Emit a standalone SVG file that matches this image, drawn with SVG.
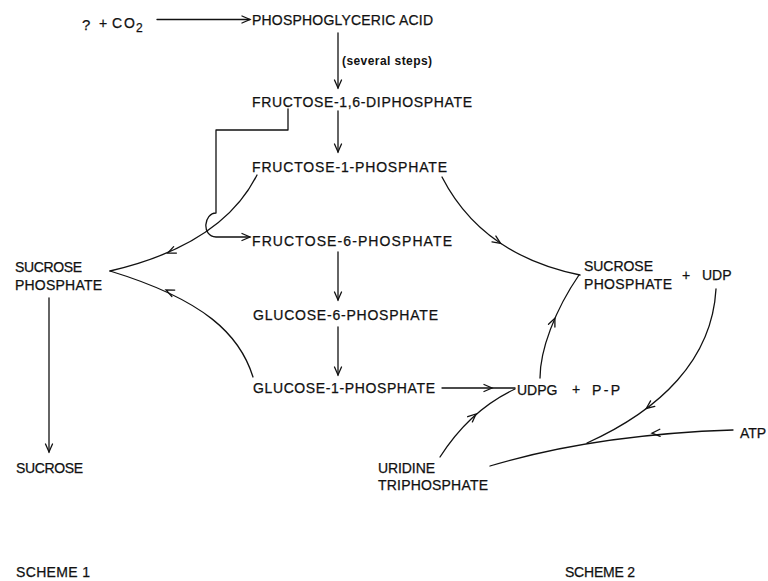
<svg xmlns="http://www.w3.org/2000/svg" xmlns:xlink="http://www.w3.org/1999/xlink" width="768" height="581" viewBox="0 0 768 581">
<style>
.t{font-family:"Liberation Sans",Arial,sans-serif;font-size:14px;fill:#111;stroke:#111;stroke-width:0.25;}
.s{font-family:"Liberation Sans",Arial,sans-serif;font-size:12px;font-weight:bold;fill:#111;}
.c{fill:none;stroke:#111;stroke-width:1.3;stroke-linecap:round;stroke-linejoin:round;}
.a{fill:none;stroke:#111;stroke-width:1.3;stroke-linecap:round;stroke-linejoin:miter;}
</style>
<defs>
<path id="ah" class="a" d="M-8,-3.5 L0,0 L-8,3.5"/>
<marker id="arr" viewBox="-10 -5 12 10" refX="0" refY="0" markerWidth="12" markerHeight="10" orient="auto" markerUnits="userSpaceOnUse">
<use xlink:href="#ah"/>
</marker>
</defs>
<rect width="768" height="581" fill="#fff"/>

<g id="co2">
<text class="t" x="82" y="30" style="font-size:15px">?</text>
<text class="t" x="99" y="28">+</text>
<text class="t" x="112" y="28" textLength="23">CO</text>
<text class="t" x="136" y="32" style="font-size:12px">2</text>
</g>
<g id="pga"><text class="t" x="252" y="25" textLength="181">PHOSPHOGLYCERIC  ACID</text></g>
<g id="steps"><text class="s" x="342" y="65" textLength="90">(several steps)</text></g>
<g id="f16dp"><text class="t" x="252" y="107" textLength="220">FRUCTOSE-1,6-DIPHOSPHATE</text></g>
<g id="f1p"><text class="t" x="252" y="172" textLength="195">FRUCTOSE-1-PHOSPHATE</text></g>
<g id="f6p"><text class="t" x="252" y="246" textLength="200">FRUCTOSE-6-PHOSPHATE</text></g>
<g id="g6p"><text class="t" x="253" y="320" textLength="185">GLUCOSE-6-PHOSPHATE</text></g>
<g id="g1p"><text class="t" x="253" y="393" textLength="182">GLUCOSE-1-PHOSPHATE</text></g>
<g id="sp1">
<text class="t" x="15" y="272" textLength="67">SUCROSE</text>
<text class="t" x="15" y="290" textLength="87">PHOSPHATE</text>
</g>
<g id="sucrose"><text class="t" x="16" y="473" textLength="67">SUCROSE</text></g>
<g id="sp2">
<text class="t" x="584" y="271" textLength="69">SUCROSE</text>
<text class="t" x="584" y="289" textLength="88">PHOSPHATE</text>
<text class="t" x="682" y="280">+</text>
<text class="t" x="702" y="280">UDP</text>
</g>
<g id="udpg">
<text class="t" x="517" y="395">UDPG</text>
<text class="t" x="572" y="394">+</text>
<text class="t" x="592" y="395" textLength="28">P-P</text>
</g>
<g id="utp">
<text class="t" x="378" y="473" textLength="57">URIDINE</text>
<text class="t" x="378" y="490" textLength="110">TRIPHOSPHATE</text>
</g>
<g id="atp"><text class="t" x="740" y="438">ATP</text></g>
<g id="scheme1"><text class="t" x="16" y="577" textLength="74">SCHEME 1</text></g>
<g id="scheme2"><text class="t" x="565" y="577" textLength="70">SCHEME 2</text></g>

<g id="connectors">
<path class="c" d="M157,19.5 L250,19.5" marker-end="url(#arr)"/>
<path class="c" d="M338,33 L338,88" marker-end="url(#arr)"/>
<path class="c" d="M338,111 L338,152" marker-end="url(#arr)"/>
<path class="c" d="M288,109 L288,130 L216,130 L216,213 C204,213 201,236 216,237 L250,237" marker-end="url(#arr)"/>
<path class="c" d="M338,252 L338,300" marker-end="url(#arr)"/>
<path class="c" d="M338,327 L338,375" marker-end="url(#arr)"/>
<path class="c" d="M49,298 L49,452" marker-end="url(#arr)"/>
<path class="c" d="M257,175 Q222,245 110,271"/>
<use xlink:href="#ah" transform="translate(167.7,253) rotate(156.7)"/>
<path class="c" d="M253,377 C240,335 205,300 110,271"/>
<use xlink:href="#ah" transform="translate(166,290) rotate(204.2)"/>
<path class="c" d="M442,388 L515,388"/>
<use xlink:href="#ah" transform="translate(492,388)"/>
<path class="c" d="M440,457 Q470,410 515,389"/>
<use xlink:href="#ah" transform="translate(476,414) rotate(-41.8)"/>
<path class="c" d="M540,378 C540,350 555,310 579,275"/>
<use xlink:href="#ah" transform="translate(554.9,318.3) rotate(-66.4)"/>
<path class="c" d="M442,177 Q482,255 580,275"/>
<use xlink:href="#ah" transform="translate(500.6,243.4) rotate(33.8)"/>
<path class="c" d="M716,289 C712,360 660,410 587,443"/>
<use xlink:href="#ah" transform="translate(646.3,408.5) rotate(143)"/>
<path class="c" d="M733,430 C640,433 560,445 490,466"/>
<use xlink:href="#ah" transform="translate(652,433.2) rotate(177)"/>
</g>
</svg>
